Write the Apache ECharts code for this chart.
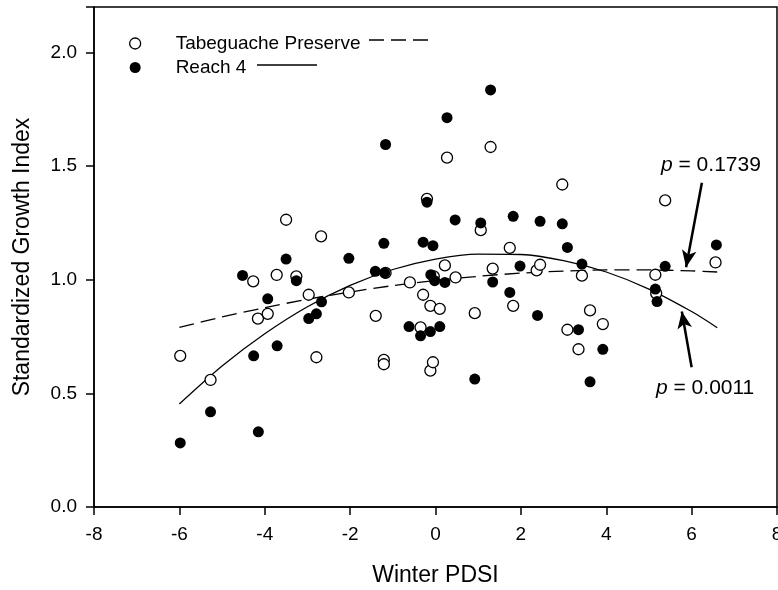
<!DOCTYPE html>
<html>
<head>
<meta charset="utf-8">
<script src="https://cdn.jsdelivr.net/npm/echarts@6/dist/echarts.min.js"></script>
<style>
  html, body { margin: 0; padding: 0; background: #fff; }
  #chart { width: 778px; height: 590px; }
</style>
</head>
<body>
<div id="chart"></div>
<script>
// Tabeguache Preserve (open circles)
var tabX = [-5.98, -5.27, -4.27, -4.16, -3.93, -3.72, -3.50, -3.26, -2.97, -2.79, -2.68, -2.03,
  -1.40, -1.21, -1.21, -1.17, -0.60, -0.35, -0.29, -0.20, -0.12, -0.12, -0.06, -0.04, 0.10,
  0.22, 0.27, 0.47, 0.92, 1.06, 1.29, 1.34, 1.74, 1.82, 2.37, 2.45, 2.97, 3.09, 3.35, 3.43,
  3.62, 3.92, 5.15, 5.17, 5.38, 6.56]
var tabY = [0.665, 0.559, 0.993, 0.829, 0.850, 1.021, 1.264, 1.015, 0.934, 0.659, 1.191, 0.944,
  0.841, 0.647, 0.628, 1.030, 0.988, 0.790, 0.934, 1.356, 0.885, 0.600, 0.637, 1.015, 0.872,
  1.063, 1.537, 1.010, 0.853, 1.218, 1.584, 1.049, 1.140, 0.885, 1.041, 1.066, 1.419, 0.780, 0.694, 1.018,
  0.865, 0.805, 1.022, 0.940, 1.349, 1.076]

// Reach 4 (filled circles)
var reachX = [-5.98, -5.27, -4.52, -4.26, -4.15, -3.93, -3.71, -3.50, -3.26, -2.97, -2.79, -2.67,
  -2.03, -1.41, -1.19, -1.21, -1.17, -0.62, -0.35, -0.29, -0.20, -0.12, -0.11, -0.06, -0.02,
  0.10, 0.22, 0.27, 0.46, 0.92, 1.06, 1.29, 1.34, 1.74, 1.82, 1.98, 2.39, 2.45, 2.97, 3.09,
  3.35, 3.43, 3.62, 3.92, 5.15, 5.19, 5.38, 6.58]
var reachY = [0.282, 0.419, 1.019, 0.665, 0.331, 0.916, 0.709, 1.091, 0.996, 0.829, 0.850, 0.903,
  1.094, 1.037, 1.030, 1.160, 1.595, 0.794, 0.753, 1.165, 1.341, 0.772, 1.022, 1.150, 0.996,
  0.794, 0.988, 1.713, 1.263, 0.563, 1.250, 1.835, 0.990, 0.944, 1.279, 1.060, 0.843, 1.257, 1.246, 1.142,
  0.780, 1.069, 0.551, 0.694, 0.959, 0.904, 1.059, 1.153]

// fitted curves
var fitX = [-6, -5, -4, -3, -2, -1, 0, 1, 2, 3, 4, 5, 6, 6.6]
var tabFit = [0.790, 0.836, 0.877, 0.914, 0.946, 0.974, 0.997, 1.015, 1.029, 1.038, 1.043, 1.043, 1.039, 1.034]
var reachFit = [0.453, 0.620, 0.762, 0.881, 0.975, 1.045, 1.091, 1.113, 1.111, 1.084, 1.034, 0.959, 0.860, 0.789]

var xTicks = [-8, 8, 2]
var yTicks = [0, 2.2, 0.5]

function pairs(xs, ys) {
  var out = []
  for (var i = 0; i < xs.length; i++) out.push([xs[i], ys[i]])
  return out
}

var FONT = '"Liberation Sans", Arial, sans-serif'
var chart = echarts.init(document.getElementById('chart'))

chart.setOption({
  animation: false,
  textStyle: { fontFamily: FONT, color: '#000' },
  grid: {
    left: 94, right: 1, top: 7, bottom: 83,
    outerBoundsMode: 'none', containLabel: false,
    show: true, borderColor: '#000', borderWidth: 1.5
  },
  legend: {
    left: 124, top: 29, orient: 'vertical', itemGap: 5,
    itemWidth: 11, itemHeight: 11,
    textStyle: { fontFamily: FONT, fontSize: 19, color: '#000', padding: [0, 0, 0, 30] },
    data: [
      { name: 'Tabeguache Preserve', icon: 'circle', itemStyle: { color: '#fff', borderColor: '#000', borderWidth: 1.3, opacity: 1 } },
      { name: 'Reach 4', icon: 'circle', itemStyle: { color: '#000', opacity: 1 } }
    ]
  },
  xAxis: {
    type: 'value', min: xTicks[0], max: xTicks[1], interval: xTicks[2],
    name: 'Winter PDSI', nameLocation: 'middle', nameGap: 57,
    nameTextStyle: { fontSize: 23, color: '#000', fontFamily: FONT },
    axisLine: { onZero: false, lineStyle: { color: '#000', width: 1.5 } },
    axisTick: { length: 8, lineStyle: { color: '#000', width: 1.5 } },
    axisLabel: { fontSize: 19, color: '#000', margin: 18, fontFamily: FONT },
    splitLine: { show: false }
  },
  yAxis: {
    type: 'value', min: yTicks[0], max: yTicks[1], interval: yTicks[2],
    name: 'Standardized Growth Index', nameLocation: 'middle', nameGap: 60,
    nameTextStyle: { fontSize: 23, color: '#000', fontFamily: FONT },
    axisLine: { onZero: false, lineStyle: { color: '#000', width: 1.5 } },
    axisTick: { length: 8, lineStyle: { color: '#000', width: 1.5 } },
    axisLabel: {
      fontSize: 19, color: '#000', margin: 17, fontFamily: FONT,
      formatter: function (v) {
        return Math.abs(v / 0.5 - Math.round(v / 0.5)) < 1e-6 ? v.toFixed(1) : ''
      }
    },
    splitLine: { show: false }
  },
  series: [
    {
      name: 'Tabeguache fit', type: 'line', data: pairs(fitX, tabFit),
      smooth: 0.3, showSymbol: false, z: 1,
      lineStyle: { color: '#000', width: 1.3, type: [15, 7] }
    },
    {
      name: 'Reach 4 fit', type: 'line', data: pairs(fitX, reachFit),
      smooth: 0.3, showSymbol: false, z: 1,
      lineStyle: { color: '#000', width: 1.3 },
      markLine: {
        silent: true, symbol: ['none', 'arrow'], symbolSize: [11, 17],
        label: { show: false },
        lineStyle: { color: '#000', width: 2.5, type: 'solid' },
        data: [
          [{ coord: [6.24, 1.427] }, { coord: [5.87, 1.055] }],
          [{ coord: [6.0, 0.615] }, { coord: [5.77, 0.86] }]
        ]
      }
    },
    {
      name: 'Tabeguache Preserve', type: 'scatter', data: pairs(tabX, tabY),
      symbol: 'circle', symbolSize: 11, z: 3,
      itemStyle: { color: '#fff', borderColor: '#000', borderWidth: 1.3, opacity: 1 }
    },
    {
      name: 'Reach 4', type: 'scatter', data: pairs(reachX, reachY),
      symbol: 'circle', symbolSize: 11, z: 4,
      itemStyle: { color: '#000', opacity: 1 }
    }
  ],
  graphic: [
    { type: 'line', shape: { x1: 369, y1: 40, x2: 428, y2: 40 }, style: { stroke: '#000', lineWidth: 1.3, lineDash: [15, 7] } },
    { type: 'line', shape: { x1: 257, y1: 65, x2: 317, y2: 65 }, style: { stroke: '#000', lineWidth: 1.3 } },
    {
      type: 'text', left: 661, top: 155,
      style: {
        text: '{i|p} = 0.1739', fontSize: 21, fontFamily: FONT, fill: '#000',
        rich: { i: { fontStyle: 'italic', fontSize: 21, fontFamily: FONT } }
      }
    },
    {
      type: 'text', left: 656, top: 378,
      style: {
        text: '{i|p} = 0.0011', fontSize: 21, fontFamily: FONT, fill: '#000',
        rich: { i: { fontStyle: 'italic', fontSize: 21, fontFamily: FONT } }
      }
    }
  ]
})
</script>
</body>
</html>
